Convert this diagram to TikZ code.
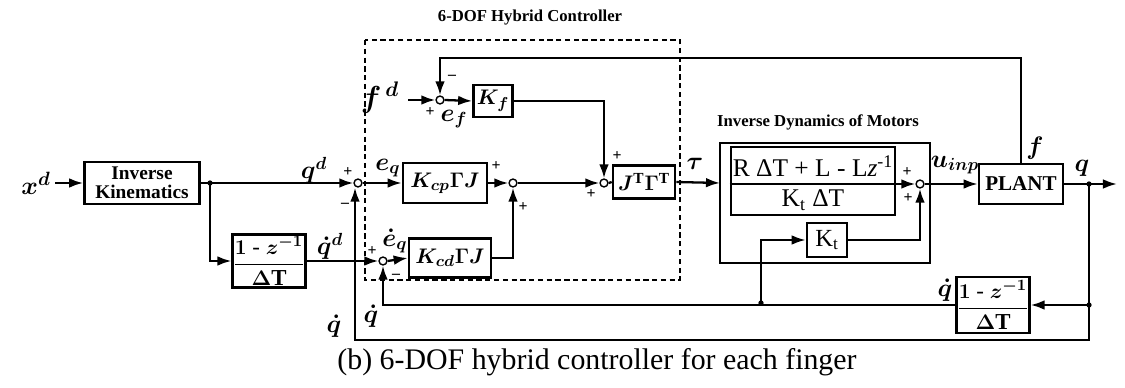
\documentclass[tikz,border=0pt]{standalone}
\usepackage{amsmath}
\usepackage{fontspec}
\setmainfont{Liberation Serif}
\usetikzlibrary{arrows.meta}
\tikzset{
  blk/.style={draw, line width=1.5pt, inner sep=0pt, align=center},
  sumj/.style={circle, draw, line width=0.8pt, minimum size=4.5pt, inner sep=0pt, fill=white},
  sgn/.style={font=\bfseries\fontsize{9}{9}\selectfont, inner sep=0pt},
  lab/.style={font=\fontsize{14}{15}\selectfont\boldmath, inner sep=0pt},
  blab/.style={font=\fontsize{12.5}{14}\selectfont\boldmath},
  ttl/.style={font=\bfseries\fontsize{9.5}{11}\selectfont, inner sep=0pt},
  sig/.style={line width=1.3pt},
  arr/.style={line width=1.3pt, -{Latex[length=8pt,width=5.5pt]}},
}
\begin{document}
\begin{tikzpicture}[x=0.02cm, y=-0.02cm]
\useasboundingbox (0,0) rectangle (1125,388);
% frames
\draw[line width=1.6pt, densely dashed] (365,40) rectangle (680,280);
\node[ttl] (t1) at (530,18) {6-DOF Hybrid Controller};
\draw[line width=1.6pt] (720,143) rectangle (930,263);
\node[ttl] (t2) at (818,122) {Inverse Dynamics of Motors};
% blocks
\node[blk, minimum width=2.3cm, minimum height=0.84cm, font=\bfseries\fontsize{11}{12}\selectfont] (ik) at (142,183) {Inverse\\[-1pt]Kinematics};
\node[blk, minimum width=1.44cm, minimum height=1.06cm, font=\fontsize{13}{14}\selectfont\boldmath] (d1) at (269,261) {$\dfrac{\mathbf{1\ \text{-}\ }z^{\mathbf{-1}}}{\Delta\mathrm{T}}$};
\node[blk, blab, minimum width=1.68cm, minimum height=0.8cm] (kcp) at (445,183) {$K_{cp}\Gamma J$};
\node[blk, blab, minimum width=1.64cm, minimum height=0.78cm] (kcd) at (450,258) {$K_{cd}\Gamma J$};
\node[blk, blab, minimum width=0.78cm, minimum height=0.64cm] (kf) at (493,101) {$K_f$};
\node[blk, blab, minimum width=1.24cm, minimum height=0.66cm] (jg) at (644,182) {$J^{\mathrm{T}}\Gamma^{\mathrm{T}}$};
\node[blk, minimum width=3.28cm, minimum height=1.36cm] (inv) at (813,181) {};
\node[font=\fontsize{14.5}{16}\selectfont, inner sep=0pt] (invn) at (813,166) {R ΔT + L - L\textit{z}\textsuperscript{-1}};
\node[font=\fontsize{14.5}{16}\selectfont, inner sep=0pt] (invd) at (813,200) {K\textsubscript{t} ΔT};
\node[blk, minimum width=0.8cm, minimum height=0.68cm, font=\fontsize{14}{15}\selectfont] (kt) at (827,240) {K\textsubscript{t}};
\node[blk, minimum width=1.68cm, minimum height=0.8cm, font=\bfseries\fontsize{12}{13}\selectfont] (plant) at (1021,184) {PLANT};
\node[blk, minimum width=1.38cm, minimum height=1.12cm, font=\fontsize{13}{14}\selectfont\boldmath] (d2) at (993,305) {$\dfrac{\mathbf{1\ \text{-}\ }z^{\mathbf{-1}}}{\Delta\mathrm{T}}$};
% summing junctions
\node[sumj] (s1) at (358,183) {};
\node[sumj] (s2) at (383,261) {};
\node[sumj] (sf) at (440,100) {};
\node[sumj] (s5) at (513,183) {};
\node[sumj] (s4) at (604,183) {};
\node[sumj] (s3) at (920,184) {};
% coordinates
\coordinate (xin) at (55,183);
\coordinate (b1) at (210,183);
\coordinate (fin) at (408,100);
\coordinate (bq) at (1089,184);
\coordinate (qout) at (1117,184);
\coordinate (bq2) at (1089,305);
\coordinate (bd) at (761,303);
\coordinate (ftop) at (1021,58);
% labels
\node[lab, font=\fontsize{15}{16}\selectfont\boldmath] (xd) at (36,183) {$x^{d}$};
\node[lab] (qd) at (314,170) {$q^{d}$};
\node[lab] (qdd) at (330,246) {$\dot q^{d}$};
\node[lab, font=\fontsize{17}{18}\selectfont\boldmath] (fdl) at (380,98) {$f^{\,d}$};
\node[lab] (eq) at (388,168) {$e_q$};
\node[lab] (edq) at (395,241) {$\dot e_q$};
\node[lab] (ef) at (454,119) {$e_f$};
\node[lab] (tau) at (695,164) {$\tau$};
\node[lab] (uinp) at (955,165) {$u_{inp}$};
\node[lab] (fl) at (1035,148) {$f$};
\node[lab] (ql) at (1082,168) {$q$};
\node[lab] (qdr) at (945,290) {$\dot q$};
\node[lab] (qdm) at (371,316) {$\dot q$};
\node[lab] (qdl) at (334,326) {$\dot q$};
% signs
\node[sgn] at (348,172) {+};
\node[sgn] at (345,205) {--};
\node[sgn] at (430,112) {+};
\node[sgn] at (452,77) {--};
\node[sgn] at (496,166) {+};
\node[sgn] at (523,207) {+};
\node[sgn] at (617,156) {+};
\node[sgn] at (591,194) {+};
\node[sgn] at (372,251) {+};
\node[sgn] at (396,276) {--};
\node[sgn] at (907,172) {+};
\node[sgn] at (908,198) {+};
% connectors
\draw[arr] (xin) -- (ik.west);
\draw[arr] (ik.east) -- (s1.west);
\draw[arr] (b1) |- (d1.west);
\fill (b1) circle (1.5pt);
\draw[arr] (d1.east) -- (s2.west);
\draw[arr] (s1.east) -- (kcp.west);
\draw[arr] (s2.east) -- (kcd.west);
\draw[arr] (kcp.east) -- (s5.west);
\draw[arr] (kcd.east) -| (s5.south);
\draw[arr] (s5.east) -- (s4.west);
\draw[arr] (fin) -- (sf.west);
\draw[arr] (sf.east) -- (kf.west);
\draw[arr] (kf.east) -| (s4.north);
\draw[sig] (s4.east) -- (jg.west);
\draw[arr] (jg.east) -- (720,183);
\draw[line width=1.3pt] (inv.west |- 0,184) -- (inv.east |- 0,184);
\draw[arr] (inv.east |- s3) -- (s3.west);
\draw[arr] (s3.east) -- (plant.west);
\draw[arr] (plant.east) -- (qout);
\fill (bq) circle (1.5pt);
\draw[arr] (plant.north) -- (ftop) -| (sf.north);
\draw[arr] (bq) |- (355,340) -- (s1.south -| 355,0);
\draw[arr] (bq2) -- (d2.east);
\fill (bq2) circle (1.5pt);
\draw[arr] (d2.west) -| (s2.south);
\draw[arr] (bd) |- (kt.west);
\fill (bd) circle (1.5pt);
\draw[arr] (kt.east) -| (s3.south);
% caption
\node[font=\fontsize{17}{19}\selectfont, inner sep=0pt] (cap) at (597,362) {(b) 6-DOF hybrid controller for each finger};
\end{tikzpicture}
\end{document}
